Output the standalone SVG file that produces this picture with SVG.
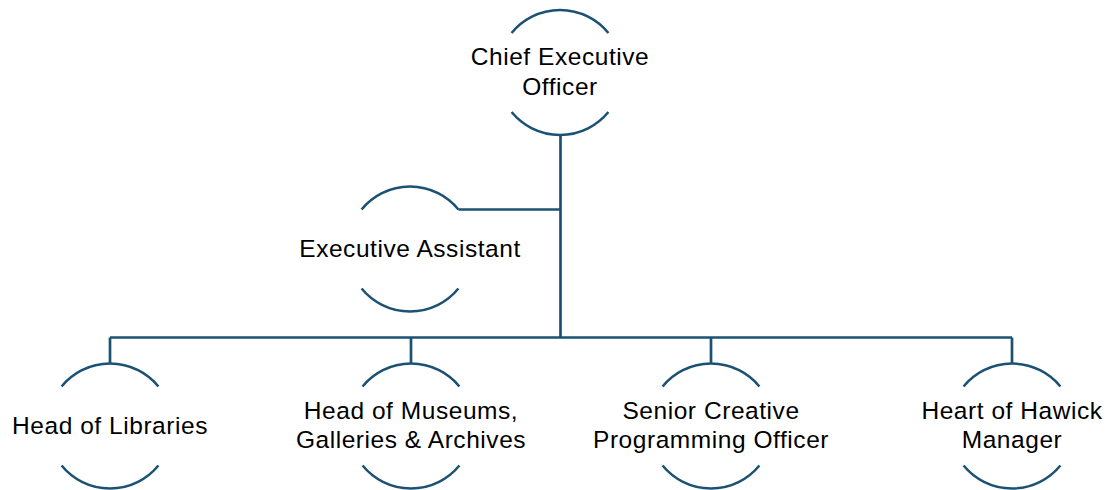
<svg xmlns="http://www.w3.org/2000/svg" width="1113" height="490" viewBox="0 0 1113 490">
<style>
.arc{fill:none;stroke:#1B5273;stroke-width:2.5}
.ln{fill:none;stroke:#1B5273;stroke-width:2.7}
.t{font-family:"Liberation Sans",Arial,sans-serif;font-size:24.5px;letter-spacing:0.55px;fill:#000;text-anchor:middle}
</style>
<rect width="1113" height="490" fill="#fff"/>
<defs>
<g id="ring">
<path class="arc" d="M-48.4,-39.5 A62.5,62.5 0 0 1 48.4,-39.5"/>
<path class="arc" d="M-48.4,39.5 A62.5,62.5 0 0 0 48.4,39.5"/>
</g>
</defs>
<g id="connectors">
<path class="ln" d="M560.5,135 V337.5"/>
<path class="ln" d="M458.4,209.5 H560.5"/>
<path class="ln" d="M110,337.5 H1012"/>
<path class="ln" d="M110,337.5 V363.5 M411,337.5 V363.5 M711,337.5 V363.5 M1012,337.5 V363.5"/>
</g>
<g id="ceo" transform="translate(560,72.5)">
<use href="#ring"/>
<text class="t" x="0" y="-7.5">Chief Executive</text>
<text class="t" x="0" y="22">Officer</text>
</g>
<g id="ea" transform="translate(410,249)">
<use href="#ring"/>
<text class="t" x="0" y="8">Executive Assistant</text>
</g>
<g id="libraries" transform="translate(110,426)">
<use href="#ring"/>
<text class="t" x="0" y="8">Head of Libraries</text>
</g>
<g id="museums" transform="translate(411,426)">
<use href="#ring"/>
<text class="t" x="0" y="-7.5">Head of Museums,</text>
<text class="t" x="0" y="22">Galleries &amp; Archives</text>
</g>
<g id="senior" transform="translate(711,426)">
<use href="#ring"/>
<text class="t" x="0" y="-7.5">Senior Creative</text>
<text class="t" x="0" y="22">Programming Officer</text>
</g>
<g id="hawick" transform="translate(1012,426)">
<use href="#ring"/>
<text class="t" x="0" y="-7.5">Heart of Hawick</text>
<text class="t" x="0" y="22">Manager</text>
</g>
</svg>
